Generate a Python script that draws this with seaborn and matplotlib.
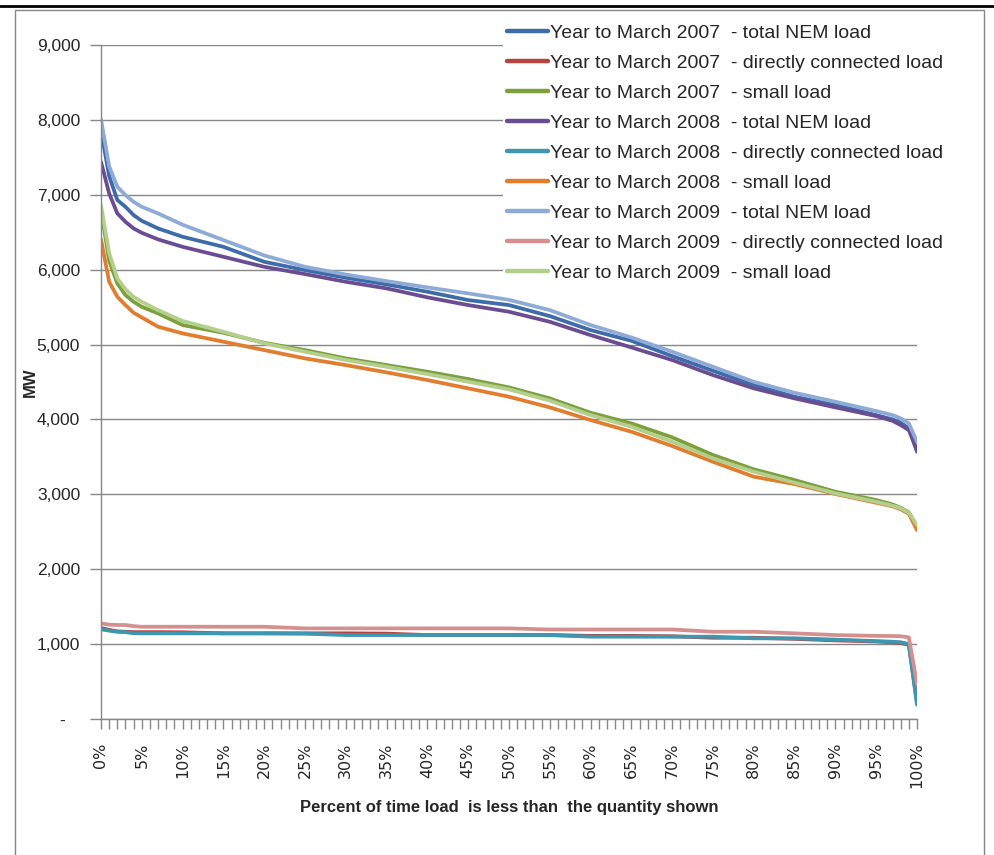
import numpy as np
import pandas as pd
import seaborn as sns
import matplotlib.pyplot as plt
from matplotlib.lines import Line2D
from matplotlib.patches import Rectangle
from matplotlib.ticker import FuncFormatter

# percent of time (x positions)
pct = [0, 1, 2, 3, 4, 5, 7, 10, 15, 20, 25, 30, 35, 40, 45, 50, 55, 60, 65,
       70, 75, 80, 85, 90, 95, 97, 98, 99, 100]

total_2007 = [7863, 7250, 6930, 6839, 6728, 6652, 6550, 6439, 6305, 6105, 5994,
              5892, 5803, 5705, 5594, 5527, 5380, 5193, 5050, 4846, 4650, 4459,
              4303, 4192, 4058, 4001, 3956, 3881, 3568]
direct_2007 = [1215, 1190, 1170, 1165, 1160, 1160, 1160, 1158, 1144, 1144, 1144,
               1144, 1140, 1121, 1121, 1121, 1121, 1110, 1110, 1105, 1085, 1085,
               1070, 1050, 1035, 1025, 1015, 990, 220]
small_2007 = [6800, 6120, 5816, 5660, 5571, 5504, 5416, 5260, 5157, 5024, 4926,
              4815, 4726, 4637, 4539, 4428, 4281, 4089, 3947, 3761, 3525, 3334,
              3191, 3035, 2924, 2865, 2820, 2760, 2560]
total_2008 = [7440, 7018, 6751, 6639, 6550, 6492, 6404, 6305, 6172, 6038, 5941,
              5838, 5750, 5630, 5527, 5438, 5304, 5126, 4962, 4793, 4592, 4415,
              4281, 4161, 4045, 3982, 3925, 3858, 3591]
direct_2008 = [1197, 1180, 1165, 1160, 1145, 1144, 1144, 1144, 1144, 1144, 1140,
               1121, 1121, 1121, 1121, 1121, 1121, 1100, 1099, 1099, 1099, 1077,
               1077, 1060, 1040, 1032, 1025, 1000, 190]
small_2008 = [6404, 5838, 5638, 5527, 5424, 5362, 5238, 5149, 5038, 4926, 4815,
              4726, 4628, 4526, 4415, 4303, 4161, 3992, 3836, 3645, 3435, 3235,
              3137, 3004, 2888, 2840, 2800, 2740, 2523]
total_2009 = [8010, 7380, 7107, 6995, 6906, 6839, 6751, 6600, 6395, 6190, 6038,
              5935, 5847, 5763, 5683, 5597, 5460, 5260, 5095, 4904, 4703, 4503,
              4356, 4236, 4112, 4058, 4014, 3948, 3702]
direct_2009 = [1277, 1260, 1255, 1255, 1240, 1232, 1232, 1232, 1232, 1232, 1210,
               1210, 1210, 1210, 1210, 1210, 1195, 1195, 1195, 1195, 1165, 1165,
               1144, 1121, 1110, 1108, 1105, 1090, 470]
small_2009 = [6862, 6220, 5883, 5737, 5638, 5571, 5460, 5315, 5171, 5016, 4904,
              4793, 4703, 4606, 4503, 4402, 4250, 4058, 3903, 3702, 3480, 3302,
              3155, 3013, 2901, 2848, 2813, 2754, 2590]

labels = [
    "Year to March 2007  - total NEM load",
    "Year to March 2007  - directly connected load",
    "Year to March 2007  - small load",
    "Year to March 2008  - total NEM load",
    "Year to March 2008  - directly connected load",
    "Year to March 2008  - small load",
    "Year to March 2009  - total NEM load",
    "Year to March 2009  - directly connected load",
    "Year to March 2009  - small load",
]
series = [total_2007, direct_2007, small_2007, total_2008, direct_2008,
          small_2008, total_2009, direct_2009, small_2009]
colors = ["#3d6ca8", "#b8443f", "#7ba03d", "#6a4c93", "#3d97b0",
          "#e27d2f", "#8eaad6", "#d4908e", "#b4cf8c"]

df = pd.concat([pd.DataFrame({"pct": pct, "MW": s, "series": lab})
                for s, lab in zip(series, labels)], ignore_index=True)

sns.set_theme(style="white")
plt.rcParams['font.family'] = ['Liberation Sans', 'DejaVu Sans']

W, H = 995, 855
fig = plt.figure(figsize=(W / 100, H / 100), dpi=100)
ax = fig.add_axes([101 / W, 1 - 719 / H, 816 / W, 674 / H])

sns.lineplot(data=df, x="pct", y="MW", hue="series", hue_order=labels,
             palette=colors, linewidth=2.7, sort=False, estimator=None,
             legend=False, ax=ax)

grey = "#868686"
ax.set_xlim(0, 100)
ax.set_ylim(0, 9000)
ax.set_yticks(range(0, 9001, 1000))
ax.yaxis.set_major_formatter(FuncFormatter(
    lambda v, p: "-   " if v == 0 else f"{int(v):,}"))
ax.set_xticks(range(0, 101))
ax.set_xticklabels([f"{i}%" if i % 5 == 0 else "" for i in range(0, 101)],
                   rotation=90, fontfamily="DejaVu Sans", fontsize=11.5)
ax.tick_params(axis="y", direction="out", length=8, color=grey, width=1,
               pad=7, labelsize=12.5, left=True)
ax.tick_params(axis="x", direction="out", length=7, color=grey, width=1,
               pad=10, bottom=True)
ax.grid(axis="y", color=grey, linewidth=1)
ax.grid(axis="x", visible=False)
for side in ["top", "right"]:
    ax.spines[side].set_visible(False)
for side in ["left", "bottom"]:
    ax.spines[side].set_color(grey)
    ax.spines[side].set_linewidth(1)

ax.set_ylabel("MW", fontweight="bold", fontsize=12)
ax.yaxis.set_label_coords(-0.077, 0.5)
ax.set_xlabel("Percent of time load  is less than  the quantity shown",
              fontweight="bold", fontsize=12)
ax.xaxis.set_label_coords(0.5, -0.12)

handles = [Line2D([0], [0], color=c, lw=3.2) for c in colors]
leg = fig.legend(handles, labels, loc="upper left",
                 bbox_to_anchor=(503 / W, 1 - 20 / H), frameon=True,
                 facecolor="white", edgecolor="none", framealpha=1,
                 fontsize=14, handlelength=2.1, handletextpad=0.1,
                 labelspacing=0.64, borderpad=0.2, borderaxespad=0)

# chart-area border and top rule
fig.patches.append(Rectangle((15 / W, -0.01), (984 - 15) / W, 1.01 - 10 / H,
                             transform=fig.transFigure, fill=False,
                             edgecolor=grey, linewidth=1))
fig.lines.append(Line2D([0, 1], [1 - 6 / H] * 2, transform=fig.transFigure,
                        color="black", linewidth=2))

fig.savefig("out.png", dpi=100)
